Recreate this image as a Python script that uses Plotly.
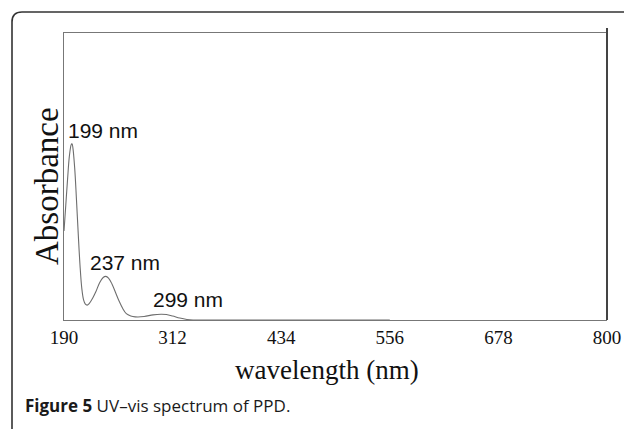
import plotly.graph_objects as go

# Spectrum values
wavelength = [190, 192, 194, 196, 198, 199, 200, 202, 204, 206, 208, 210, 212, 214, 216, 218,
              222, 226, 230, 234, 237, 240, 244, 248, 252, 256, 260, 265, 270, 280, 290, 299,
              305, 312, 320, 328, 335, 400, 480, 556]
absorbance = [0.31, 0.40, 0.49, 0.57, 0.61, 0.615, 0.60, 0.53, 0.42, 0.30, 0.19, 0.11, 0.07,
              0.055, 0.052, 0.056, 0.075, 0.10, 0.13, 0.148, 0.152, 0.146, 0.125, 0.095, 0.065,
              0.04, 0.022, 0.014, 0.011, 0.012, 0.018, 0.02, 0.019, 0.014, 0.007, 0.002, 0.0,
              0.0, 0.0, 0.0]
tick_values = [190, 312, 434, 556, 678, 800]
tick_labels = ["190", "312", "434", "556", "678", "800"]
peak_labels = ["199 nm", "237 nm", "299 nm"]
peak_label_x = [192.2, 217, 287.7]
peak_label_y = [0.662, 0.199, 0.070]

W, H = 624, 429
L, R, T, B = 64, 17, 33, 109
PW, PH = W - L - R, H - T - B

def px(x):
    return (x - L) / PW

def py(y):
    return (T + PH - y) / PH

fig = go.Figure()
fig.add_trace(go.Scatter(x=wavelength, y=absorbance, mode="lines",
                         line=dict(color="#6e6e6e", width=1.1, shape="spline"),
                         cliponaxis=False, showlegend=False, hoverinfo="skip"))

serif = "Liberation Serif, Times New Roman, serif"
ann = []
for t, x, y in zip(peak_labels, peak_label_x, peak_label_y):
    ann.append(dict(x=x, y=y, xref="x", yref="y", text=t, showarrow=False,
                    xanchor="left", yanchor="middle",
                    font=dict(family="Liberation Sans, Arial, sans-serif", size=21, color="#111")))
ann.append(dict(x=px(47), y=py(186), xref="paper", yref="paper", text="Absorbance",
                textangle=-90, showarrow=False, xanchor="center", yanchor="middle",
                font=dict(family=serif, size=33, color="#111")))
ann.append(dict(x=px(327), y=py(370), xref="paper", yref="paper", text="wavelength (nm)",
                showarrow=False, xanchor="center", yanchor="middle",
                font=dict(family=serif, size=27, color="#111")))
ann.append(dict(x=px(23), y=py(405), xref="paper", yref="paper",
                text="<b>Figure 5</b> UV\u2013vis spectrum of PPD.",
                showarrow=False, xanchor="left", yanchor="middle",
                font=dict(family="Open Sans, sans-serif", size=17, color="#1a1a1a")))

# rounded outer frame (paper coords)
x0, x1 = px(12), px(632)
y0, y1 = py(12), py(440)
rx, ry = 10 / PW, 10 / PH
frame = (f"M {x0},{y1} L {x0},{y0 - ry} Q {x0},{y0} {x0 + rx},{y0} "
         f"L {x1},{y0}")
shapes = [
    dict(type="path", xref="paper", yref="paper", path=frame,
         line=dict(color="#333", width=1.6)),
    dict(type="line", xref="paper", yref="paper", x0=1.0, x1=1.0, y0=0, y1=py(28),
         line=dict(color="#444", width=2)),
]

fig.update_layout(
    width=W, height=H, autosize=False, margin=dict(l=L, r=R, t=T, b=B),
    paper_bgcolor="white", plot_bgcolor="white",
    annotations=ann, shapes=shapes,
    xaxis=dict(range=[190, 800], showgrid=False, zeroline=False, showline=True,
               linecolor="#777", linewidth=1, mirror=True, ticks="", automargin=False,
               tickmode="array", tickvals=tick_values, ticktext=tick_labels,
               tickfont=dict(family=serif, size=19, color="#111")),
    yaxis=dict(range=[0, 1], showgrid=False, zeroline=False, showline=True, automargin=False,
               linecolor="#777", linewidth=1, showticklabels=False, ticks=""),
)
fig.write_html("out.html",
               config={"displayModeBar": False, "responsive": False},
               post_script="document.body.style.margin='0';document.body.style.overflow='hidden';")
